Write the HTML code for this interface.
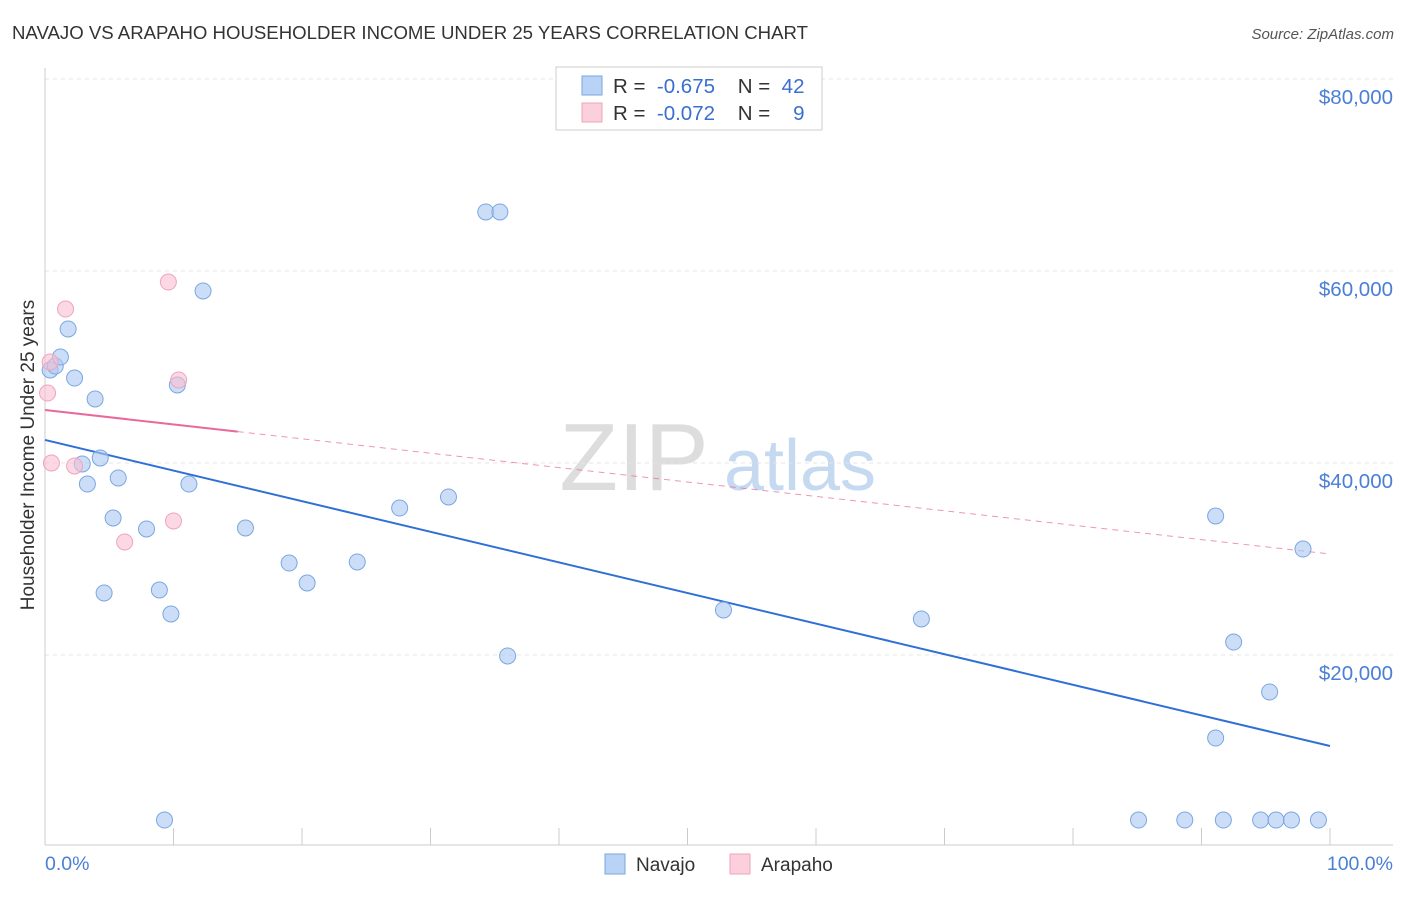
<!DOCTYPE html>
<html><head><meta charset="utf-8"><style>
body{margin:0;background:#fff;font-family:"Liberation Sans",sans-serif}
svg text{font-family:"Liberation Sans",sans-serif}
</style></head><body>
<svg id="c" width="1406" height="892" viewBox="0 0 1406 892">
<text x="12" y="39" font-size="18" fill="#333" textLength="796" lengthAdjust="spacingAndGlyphs">NAVAJO VS ARAPAHO HOUSEHOLDER INCOME UNDER 25 YEARS CORRELATION CHART</text>
<text x="1394" y="39" font-size="15" fill="#555" font-style="italic" text-anchor="end">Source: ZipAtlas.com</text>
<g>
<text x="634" y="490" font-size="96" fill="#ddd" font-family="Liberation Serif" text-anchor="middle">ZIP</text>
<text x="800" y="490" font-size="72" fill="#c5d9f0" text-anchor="middle">atlas</text>
</g>
<g id="grid"></g>
<g id="axes"></g>
<g id="lines"></g>
<g id="pts"></g>
<text x="34" y="455" font-size="19" fill="#333" text-anchor="middle" transform="rotate(-90 34 455)">Householder Income Under 25 years</text>
<text x="45" y="870" font-size="19.5" fill="#4a7fd4">0.0%</text>
<text x="1393" y="870" font-size="19.5" fill="#4a7fd4" text-anchor="end">100.0%</text>
<g>
<rect x="556" y="67" width="266" height="63" fill="#fff" stroke="#ccc"/>
<rect x="582" y="76" width="20" height="19" fill="#b8d3f5" stroke="#7aa7e0"/>
<rect x="582" y="103" width="20" height="19" fill="#fbd0dc" stroke="#eea5bb"/>
<text x="613" y="93" font-size="20.5" fill="#333">R = &#160;<tspan fill="#3a6fd0">-0.675</tspan>&#160;&#160;&#160;&#160;N = &#160;<tspan fill="#3a6fd0">42</tspan></text>
<text x="613" y="120" font-size="20.5" fill="#333">R = &#160;<tspan fill="#3a6fd0">-0.072</tspan>&#160;&#160;&#160;&#160;N = &#160;&#160;&#160;<tspan fill="#3a6fd0">9</tspan></text>
</g>
<g><rect x="605" y="854" width="20" height="20" fill="#b8d3f5" stroke="#7aa7e0"/><text x="636" y="871" font-size="19" fill="#333">Navajo</text></g>
<g><rect x="730" y="854" width="20" height="20" fill="#fbd0dc" stroke="#eea5bb"/><text x="761" y="871" font-size="19" fill="#333">Arapaho</text></g>
</svg>
<script>
const yTicks=[20000,40000,60000,80000];
const yTickLabels=["$20,000","$40,000","$60,000","$80,000"];
const navajoX=[0.4,0.8,1.2,1.8,2.3,3.9,2.9,4.3,3.3,5.7,5.3,4.6,7.9,8.9,9.8,9.3,10.3,11.2,12.3,15.6,19.0,20.4,24.3,27.6,31.4,34.3,35.4,36.0,52.8,68.2,91.1,91.1,92.5,95.3,97.9,85.1,88.7,91.7,94.6,95.8,97.0,99.1];
const navajoY=[49690,50100,51040,53960,48850,46670,39900,40520,37810,38440,34270,26460,33130,26770,24270,2810,48130,37810,57920,33230,29580,27500,29690,35310,36460,66150,66150,19900,24690,23750,34480,11350,21350,16150,31040,2810,2810,2810,2810,2810,2810,2810];
const arapahoX=[0.2,0.4,1.6,0.5,2.3,6.2,9.6,10.0,10.4];
const arapahoY=[47290,50520,56040,40000,39690,31770,58850,33960,48650];
const navajoTrend=[42400,10520];
const arapahoTrend=[45520,30520];
const arapahoSolidEnd=15;
const X=p=>45+p*12.85, Y=v=>847-v*0.0096;
const NS="http://www.w3.org/2000/svg";
function mk(t,a,par){const e=document.createElementNS(NS,t);for(const k in a)e.setAttribute(k,a[k]);document.getElementById(par).appendChild(e);return e;}
yTicks.forEach((v,i)=>{
 const l=mk('line',{x1:45,x2:1393,y1:Y(v),y2:Y(v),stroke:'#e4e4e4','stroke-dasharray':'4,4'},'grid');
 
 
 const t=mk('text',{x:1393,y:Y(v)+25,'font-size':20.5,fill:'#4a7fd4','text-anchor':'end'},'grid');t.textContent=yTickLabels[i];
 
 
});
{const a=mk('line',{x1:45,x2:45,y1:68,y2:845,stroke:'#ccc'},'axes');


const b=mk('line',{x1:45,x2:1393,y1:845,y2:845,stroke:'#ccc'},'axes');

}
for(let i=0;i<=10;i++){const t=mk('line',{x1:X(i*10),x2:X(i*10),y1:828,y2:845,stroke:'#ccc'},'axes');

}
const tv=(tr,p)=>tr[0]+(tr[1]-tr[0])*p/100;
{const l=mk('line',{x1:X(0),y1:Y(tv(navajoTrend,0)),x2:X(100),y2:Y(tv(navajoTrend,100)),stroke:'#2f6fd6','stroke-width':2},'lines');


const s=mk('line',{x1:X(0),y1:Y(tv(arapahoTrend,0)),x2:X(arapahoSolidEnd),y2:Y(tv(arapahoTrend,arapahoSolidEnd)),stroke:'#e8699a','stroke-width':2},'lines');


const d=mk('line',{x1:X(arapahoSolidEnd),y1:Y(tv(arapahoTrend,arapahoSolidEnd)),x2:X(100),y2:Y(tv(arapahoTrend,100)),stroke:'#e8699a','stroke-width':1,'stroke-dasharray':'6,5',opacity:0.7},'lines');

}
navajoX.forEach((x,i)=>{const c=mk('circle',{cx:X(x),cy:Y(navajoY[i]),r:8,fill:'rgba(170,200,242,0.6)',stroke:'#7aa7e0','stroke-width':1},'pts');

});
arapahoX.forEach((x,i)=>{const c=mk('circle',{cx:X(x),cy:Y(arapahoY[i]),r:8,fill:'rgba(248,190,208,0.6)',stroke:'#eea5bb','stroke-width':1},'pts');

});
</script>
</body></html>
